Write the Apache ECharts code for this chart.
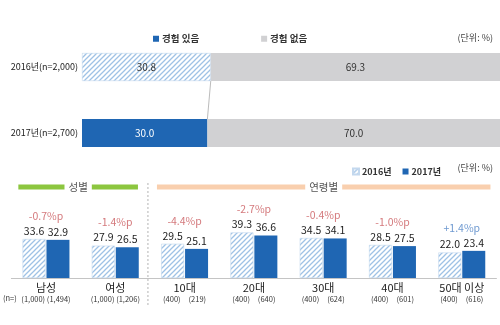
<!DOCTYPE html>
<html>
<head>
<meta charset="utf-8">
<script src="https://cdn.jsdelivr.net/npm/echarts@6/dist/echarts.min.js"></script>
<style>
  html, body { margin: 0; padding: 0; background: #fff; }
  #chart { width: 500px; height: 325px; }
</style>
</head>
<body>
<div id="chart"></div>
<script>
// Experience rate, by survey year
const yearLabels = ['2016년(n=2,000)', '2017년(n=2,700)'];
const expYes = [30.8, 30.0];
const expNo = [69.3, 70.0];

// Breakdown by sex and age group
const groups = ['남성', '여성', '10대', '20대', '30대', '40대', '50대 이상'];
const val2016 = [33.6, 27.9, 29.5, 39.3, 34.5, 28.5, 22.0];
const val2017 = [32.9, 26.5, 25.1, 36.6, 34.1, 27.5, 23.4];
const n2016 = ['1,000', '1,000', '400', '400', '400', '400', '400'];
const n2017 = ['1,494', '1,206', '219', '640', '624', '601', '616'];
const sections = [
  { name: '성별', from: 0, to: 1, color: '#8cc63f' },
  { name: '연령별', from: 2, to: 6, color: '#f9cfae' }
];

const FONT = '"Noto Sans CJK KR", "Noto Sans", sans-serif';
const BLUE = '#1f66b3';
const GREY = '#d1d1d3';

// diagonal hatch fill used for the earlier year
function hatch() {
  const c = document.createElement('canvas');
  c.width = 5; c.height = 5;
  const g = c.getContext('2d');
  g.fillStyle = '#ffffff';
  g.fillRect(0, 0, 5, 5);
  g.strokeStyle = '#9fc2e5';
  g.lineWidth = 1.3;
  g.beginPath();
  g.moveTo(-1, 6); g.lineTo(6, -1);
  g.moveTo(-1, 1); g.lineTo(1, -1);
  g.moveTo(4, 6); g.lineTo(6, 4);
  g.stroke();
  return { image: c, repeat: 'repeat' };
}
const HATCH = hatch();

// change between the two years, placed above the taller bar of each pair
const diffs = val2016.map((a, i) => {
  const d = Math.round((val2017[i] - a) * 10) / 10;
  return {
    value: [i, Math.max(a, val2017[i])],
    diff: d,
    label: d > 0 ? { color: '#4a7fc4' } : undefined
  };
});

const chart = echarts.init(document.getElementById('chart'), null, { renderer: 'canvas' });

const legendText = { fontFamily: FONT, fontSize: 9.5, fontWeight: 'bold', color: '#333', padding: [0, 0, 0, -2] };

chart.setOption({
  animation: false,
  textStyle: { fontFamily: FONT },
  legend: [
    {
      data: ['경험 있음', '경험 없음'],
      left: 148, top: 29,
      itemWidth: 6, itemHeight: 6, itemGap: 62,
      icon: 'rect',
      textStyle: legendText
    },
    {
      data: ['2016년', '2017년'],
      left: 347, top: 162,
      itemWidth: 6, itemHeight: 6, itemGap: 11,
      icon: 'rect',
      textStyle: Object.assign({}, legendText, { fontSize: 9 })
    }
  ],
  grid: [
    { left: 82, right: 0, top: 34, height: 132 },
    { left: 11.35, width: 485.1, top: 220, height: 58 }
  ],
  xAxis: [
    { type: 'value', gridIndex: 0, min: 0, max: 100, show: false },
    {
      type: 'category', gridIndex: 1, data: groups,
      axisLine: { lineStyle: { color: '#c4c4c4', width: 1 } },
      axisTick: { show: false },
      axisLabel: {
        margin: 3,
        interval: 0,
        formatter: (v, i) => `{c|${v}}\n{n|(${n2016[i]})}{n|(${n2017[i]})}`,
        rich: {
          c: { fontFamily: FONT, fontSize: 11, color: '#222', lineHeight: 13 },
          n: { fontFamily: FONT, fontSize: 7.5, color: '#333', width: 25.5, align: 'center', lineHeight: 10 }
        }
      }
    }
  ],
  yAxis: [
    {
      type: 'category', gridIndex: 0, data: yearLabels, inverse: true,
      axisLine: { show: false }, axisTick: { show: false },
      axisLabel: { margin: 4, fontFamily: FONT, fontSize: 9, color: '#222' }
    },
    { type: 'value', gridIndex: 1, min: 0, max: 50, show: false }
  ],
  series: [
    {
      name: '경험 있음', type: 'bar', stack: 'exp', xAxisIndex: 0, yAxisIndex: 0,
      barWidth: 28, color: BLUE,
      data: [
        { value: expYes[0], itemStyle: { color: HATCH, borderColor: '#c3d8ee', borderWidth: 0.6 },
          label: { color: '#333' } },
        { value: expYes[1], itemStyle: { color: BLUE }, label: { color: '#fff' } }
      ],
      label: { show: true, position: 'inside', fontFamily: FONT, fontSize: 10,
               formatter: p => p.value.toFixed(1) }
    },
    {
      name: '경험 없음', type: 'bar', stack: 'exp', xAxisIndex: 0, yAxisIndex: 0,
      barWidth: 28, color: GREY,
      data: expNo,
      label: { show: true, position: 'inside', fontFamily: FONT, fontSize: 10, color: '#333',
               formatter: p => p.value.toFixed(1) }
    },
    {
      // thin connector between the ends of the "yes" segments
      type: 'custom', xAxisIndex: 0, yAxisIndex: 0, silent: true, z: 1,
      data: [[expYes[0], 0, expYes[1], 1]],
      renderItem: (params, api) => {
        const a = api.coord([api.value(0), api.value(1)]);
        const b = api.coord([api.value(2), api.value(3)]);
        return {
          type: 'line',
          shape: { x1: a[0], y1: a[1] + 14, x2: b[0], y2: b[1] - 14 },
          style: { stroke: '#a9a9a9', lineWidth: 0.8 }
        };
      }
    },
    {
      name: '2016년', type: 'bar', xAxisIndex: 1, yAxisIndex: 1,
      barWidth: 23, barGap: '4%',
      color: HATCH,
      itemStyle: { color: HATCH, borderColor: '#c3d8ee', borderWidth: 0.6 },
      data: val2016,
      label: { show: true, position: 'top', distance: 3, fontFamily: FONT, fontSize: 10.5, color: '#222',
               formatter: p => p.value.toFixed(1) }
    },
    {
      name: '2017년', type: 'bar', xAxisIndex: 1, yAxisIndex: 1,
      barWidth: 23, barGap: '4%',
      color: BLUE,
      data: val2017,
      label: { show: true, position: 'top', distance: 3, fontFamily: FONT, fontSize: 10.5, color: '#222',
               formatter: p => p.value.toFixed(1) }
    },
    {
      // year-over-year change above each pair
      type: 'scatter', xAxisIndex: 1, yAxisIndex: 1, symbolSize: 0, silent: true,
      data: diffs,
      label: {
        show: true, position: 'top', distance: 18, fontFamily: FONT, fontSize: 10.5,
        formatter: p => (p.data.diff > 0 ? '+' : '') + p.data.diff.toFixed(1) + '%p',
        color: '#c9575b'
      }
    }
  ]
});

// section headers and divider, placed from the category axis of the lower chart
function overlay() {
  const bandC = i => chart.convertToPixel({ xAxisIndex: 1 }, groups[i]);
  const band = bandC(1) - bandC(0);
  const yTop = 187;
  const els = [];
  sections.forEach(s => {
    const x1 = bandC(s.from) - band / 2 + 7;
    const x2 = bandC(s.to) + band / 2 - (s.to === groups.length - 1 ? 6 : 12);
    const xm = (x1 + x2) / 2;
    els.push({
      type: 'line', silent: true,
      shape: { x1: x1, y1: yTop, x2: x2, y2: yTop },
      style: { stroke: s.color, lineWidth: 5 }
    });
    els.push({
      type: 'text', silent: true, x: xm, y: yTop,
      style: { text: s.name, fontFamily: FONT, fontSize: 10.5, fill: '#555',
               align: 'center', verticalAlign: 'middle',
               backgroundColor: '#fff', padding: [0, 4] }
    });
  });
  const xd = (bandC(1) + bandC(2)) / 2 - 2;
  els.push({
    type: 'line', silent: true,
    shape: { x1: xd, y1: 183, x2: xd, y2: 306 },
    style: { stroke: '#a0a0a0', lineWidth: 0.8, lineDash: [2, 2] }
  });
  const note = { fontFamily: FONT, fontSize: 9, fill: '#444', align: 'right', verticalAlign: 'middle' };
  els.push({ type: 'text', x: 493, y: 38, silent: true, style: Object.assign({ text: '(단위: %)' }, note) });
  els.push({ type: 'text', x: 493, y: 168, silent: true, style: Object.assign({ text: '(단위: %)' }, note) });
  els.push({ type: 'text', x: 3, y: 298, silent: true,
    style: { text: '(n=)', fontFamily: FONT, fontSize: 7.5, fill: '#333', align: 'left', verticalAlign: 'middle' } });
  chart.setOption({ graphic: els });
}
overlay();
</script>
</body>
</html>
